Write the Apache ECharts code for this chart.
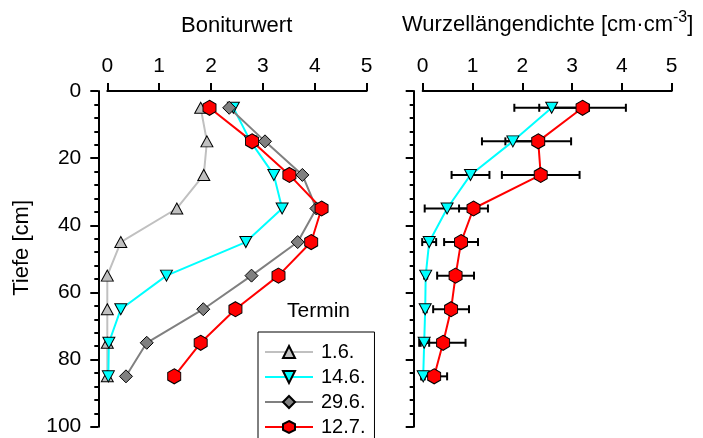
<!DOCTYPE html>
<html>
<head>
<meta charset="utf-8">
<script src="https://cdn.jsdelivr.net/npm/echarts@6/dist/echarts.min.js"></script>
<style>html,body{margin:0;padding:0;background:#fff}#c{width:703px;height:438px}</style>
</head>
<body>
<div id="c"></div>
<script>
// ---- data ----
const depths = [5, 15, 25, 35, 45, 55, 65, 75, 85];
const xTicks = [0, 1, 2, 3, 4, 5];
const yTicks = [0, 20, 40, 60, 80, 100];
const seriesNames = ['1.6.', '14.6.', '29.6.', '12.7.'];
// Boniturwert (left panel)
const bonitur_1_6  = [1.80, 1.92, 1.86, 1.34, 0.26, 0.00, 0.00, 0.00, 0.00];
const bonitur_14_6 = [2.43, 2.76, 3.21, 3.37, 2.67, 1.14, 0.26, 0.03, 0.02];
const bonitur_29_6 = [2.35, 3.04, 3.76, 4.03, 3.67, 2.78, 1.85, 0.76, 0.36];
const bonitur_12_7 = [1.97, 2.79, 3.51, 4.13, 3.93, 3.30, 2.47, 1.80, 1.29];
// Wurzellängendichte (right panel) with error (+/-)
const wld_14_6     = [2.59, 1.81, 0.96, 0.49, 0.13, 0.06, 0.05, 0.03, 0.01];
const wld_14_6_err = [0.75, 0.62, 0.38, 0.45, 0.14, 0.03, 0.03, 0.10, 0.03];
const wld_12_7     = [3.21, 2.32, 2.37, 1.02, 0.77, 0.66, 0.57, 0.41, 0.23];
const wld_12_7_err = [0.87, 0.66, 0.78, 0.29, 0.34, 0.37, 0.36, 0.45, 0.26];

const pairs = (xs) => xs.map((v, i) => [v, depths[i]]);
const errPairs = (xs, es) => xs.map((v, i) => [v, depths[i], es[i]]);

const HEX = 'path://M0,-1 L0.866,-0.5 L0.866,0.5 L0,1 L-0.866,0.5 L-0.866,-0.5 Z';
const FONT = 'Liberation Sans, Arial, sans-serif';

const styles = {
  '1.6.':  { color: '#c0c0c0', symbol: 'triangle', size: [12, 11], rot: 0 },
  '14.6.': { color: '#00ffff', symbol: 'triangle', size: [12, 11], rot: 180 },
  '29.6.': { color: '#808080', symbol: 'diamond', size: [13, 13], rot: 0 },
  '12.7.': { color: '#ff0000', symbol: HEX, size: [13, 15], rot: 0 }
};

function lineSeries(name, data, idx) {
  const s = styles[name];
  return {
    type: 'line', name: name, xAxisIndex: idx, yAxisIndex: idx,
    data: data, symbol: s.symbol, symbolSize: s.size, symbolRotate: s.rot,
    showAllSymbol: true, animation: false,
    lineStyle: { color: s.color, width: 2 },
    itemStyle: { color: s.color, borderColor: '#000', borderWidth: 1, opacity: 1 },
    emphasis: { disabled: true }
  };
}

function errSeries(data) {
  return {
    type: 'custom', xAxisIndex: 1, yAxisIndex: 1, data: data, animation: false,
    renderItem: function (params, api) {
      const x = api.value(0), y = api.value(1), e = api.value(2);
      const p1 = api.coord([x - e, y]);
      const p2 = api.coord([x + e, y]);
      const h = 4;
      const st = { stroke: '#000', lineWidth: 2 };
      return {
        type: 'group', children: [
          { type: 'line', shape: { x1: p1[0], y1: p1[1], x2: p2[0], y2: p2[1] }, style: st },
          { type: 'line', shape: { x1: p1[0], y1: p1[1] - h, x2: p1[0], y2: p1[1] + h }, style: st },
          { type: 'line', shape: { x1: p2[0], y1: p2[1] - h, x2: p2[0], y2: p2[1] + h }, style: st }
        ]
      };
    }
  };
}

function xAxis(idx) {
  return {
    gridIndex: idx, type: 'value', position: 'top', min: xTicks[0], max: xTicks[xTicks.length - 1], interval: 1,
    axisLine: { show: true, onZero: false, lineStyle: { color: '#000', width: 2 } },
    axisTick: { show: true, length: 8, lineStyle: { color: '#000', width: 2 } },
    axisLabel: { fontSize: 21, color: '#000', fontFamily: FONT, margin: 14 },
    splitLine: { show: false }
  };
}
function yAxis(idx, labels) {
  return {
    gridIndex: idx, type: 'value', inverse: true, min: yTicks[0], max: yTicks[yTicks.length - 1], interval: 20,
    offset: 9,
    axisLine: { show: true, onZero: false, lineStyle: { color: '#000', width: 2 } },
    axisTick: { show: true, length: 8, lineStyle: { color: '#000', width: 2 } },
    minorTick: { show: true, splitNumber: 5, length: 4, lineStyle: { color: '#000', width: 2 } },
    axisLabel: { show: labels, fontSize: 21, color: '#000', fontFamily: FONT, margin: 17 },
    splitLine: { show: false }, minorSplitLine: { show: false }
  };
}

const chart = echarts.init(document.getElementById('c'), null, { renderer: 'canvas' });
chart.setOption({
  animation: false,
  backgroundColor: '#fff',
  textStyle: { fontFamily: FONT },
  grid: [
    { left: 107.3, right: 336.3, top: 91, bottom: 11.3 },
    { left: 422.7, right: 31.3, top: 91, bottom: 11.3 }
  ],
  xAxis: [xAxis(0), xAxis(1)],
  yAxis: [yAxis(0, true), yAxis(1, false)],
  legend: {
    data: seriesNames, orient: 'vertical', left: 258, top: 332, height: 200,
    itemWidth: 48, itemHeight: 15, itemGap: 5,
    padding: [10, 9, 6, 6],
    borderColor: '#000', borderWidth: 1, backgroundColor: '#fff',
    selectedMode: false,
    textStyle: { fontSize: 20, lineHeight: 18, color: '#000', fontFamily: FONT, padding: [0, 0, 0, 3] }
  },
  graphic: [
    { type: 'text', left: 181, top: 15, style: { text: 'Boniturwert', fontSize: 22, fontFamily: FONT, fill: '#000' } },
    { type: 'text', left: 402, top: 10, style: { text: 'Wurzellängendichte [cm·cm{s|-3}]', fontSize: 22, fontFamily: FONT, fill: '#000',
        rich: { s: { fontSize: 16, fontFamily: FONT, fill: '#000', padding: [0, 0, 14, 0] } } } },
    { type: 'text', left: 11, top: 200, rotation: Math.PI / 2, style: { text: 'Tiefe [cm]', fontSize: 22, fontFamily: FONT, fill: '#000' } },
    { type: 'text', left: 287, top: 301, style: { text: 'Termin', fontSize: 21, fontFamily: FONT, fill: '#000' } }
  ],
  series: [
    lineSeries('1.6.', pairs(bonitur_1_6), 0),
    lineSeries('14.6.', pairs(bonitur_14_6), 0),
    lineSeries('29.6.', pairs(bonitur_29_6), 0),
    lineSeries('12.7.', pairs(bonitur_12_7), 0),
    errSeries(errPairs(wld_14_6, wld_14_6_err)),
    lineSeries('14.6.', pairs(wld_14_6), 1),
    errSeries(errPairs(wld_12_7, wld_12_7_err)),
    lineSeries('12.7.', pairs(wld_12_7), 1)
  ]
});
</script>
</body>
</html>
